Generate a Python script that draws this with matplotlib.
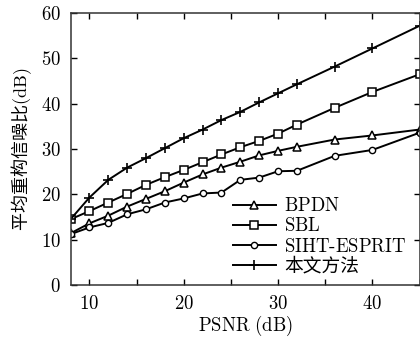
import matplotlib
matplotlib.use("Agg")
import matplotlib.pyplot as plt
from matplotlib.ticker import MultipleLocator

plt.rcParams['mathtext.fontset'] = 'cm'
plt.rcParams['font.family'] = ['DejaVu Serif', 'Noto Sans CJK SC']

psnr = [8, 10, 12, 14, 16, 18, 20, 22, 24, 26, 28, 30, 32, 36, 40, 45]
bpdn = [11.4, 13.6, 15.3, 17.3, 19.0, 20.7, 22.6, 24.4, 25.9, 27.2, 28.6, 29.6, 30.5, 32.1, 33.0, 34.3]
sbl = [14.5, 16.3, 18.2, 20.1, 22.1, 23.8, 25.4, 27.1, 28.8, 30.4, 31.8, 33.4, 35.4, 39.1, 42.6, 46.5]
siht = [11.2, 12.7, 13.7, 15.6, 16.7, 18.2, 19.1, 20.2, 20.4, 23.2, 23.7, 25.1, 25.2, 28.5, 29.8, 33.6]
ours = [14.5, 19.3, 23.2, 25.9, 28.0, 30.2, 32.4, 34.3, 36.4, 38.2, 40.3, 42.3, 44.3, 48.2, 52.2, 57.2]

labels = [r'$\mathrm{BPDN}$', r'$\mathrm{SBL}$', r'$\mathrm{SIHT\text{-}ESPRIT}$', '本文方法']
xticks = [10, 20, 30, 40]
yticks = [0, 10, 20, 30, 40, 50, 60]

fig = plt.figure(figsize=(4.2, 3.45), dpi=100)
ax = fig.add_axes([0.168, 0.174, 0.831, 0.788])

lw = 1.4
ax.plot(psnr, bpdn, '-', color='black', lw=lw, marker='^', ms=5.5, mfc='white', mec='black', mew=1.1, label=labels[0])
ax.plot(psnr, sbl, '-', color='black', lw=lw, marker='s', ms=6, mfc='white', mec='black', mew=1.1, label=labels[1])
ax.plot(psnr, siht, '-', color='black', lw=lw, marker='o', ms=4.5, mfc='white', mec='black', mew=1.0, label=labels[2])
ax.plot(psnr, ours, '-', color='black', lw=lw, marker='+', ms=7, mec='black', mew=1.2, label=labels[3])

ax.set_xlim(8, 45)
ax.set_ylim(0, 60)
ax.set_xticks(xticks)
ax.set_xticklabels([r'$%d$' % v for v in xticks])
ax.xaxis.set_minor_locator(MultipleLocator(5))
ax.set_yticks(yticks)
ax.set_yticklabels([r'$%d$' % v for v in yticks])
ax.tick_params(axis='both', which='both', direction='in', top=True, right=True, labelsize=13.5, length=4, width=1)
ax.tick_params(axis='x', pad=7)
ax.tick_params(axis='y', pad=7)
for s in ax.spines.values():
    s.set_linewidth(1.1)
    s.set_color('#333333')

ax.set_xlabel(r'$\mathrm{PSNR\ (dB)}$', fontsize=13.5, labelpad=1)
ax.set_ylabel(r'平均重构信噪比$\mathrm{(dB)}$', fontsize=13, labelpad=5, family=['Noto Sans CJK SC', 'DejaVu Sans'])

leg = ax.legend(loc='lower right', bbox_to_anchor=(1.0, -0.015), frameon=False,
                handlelength=2.3, handletextpad=0.45, labelspacing=0.12, borderaxespad=0.3,
                prop={'family': ['DejaVu Serif', 'Noto Sans CJK SC'], 'size': 13.5})

fig.savefig('out.png', dpi=100)
